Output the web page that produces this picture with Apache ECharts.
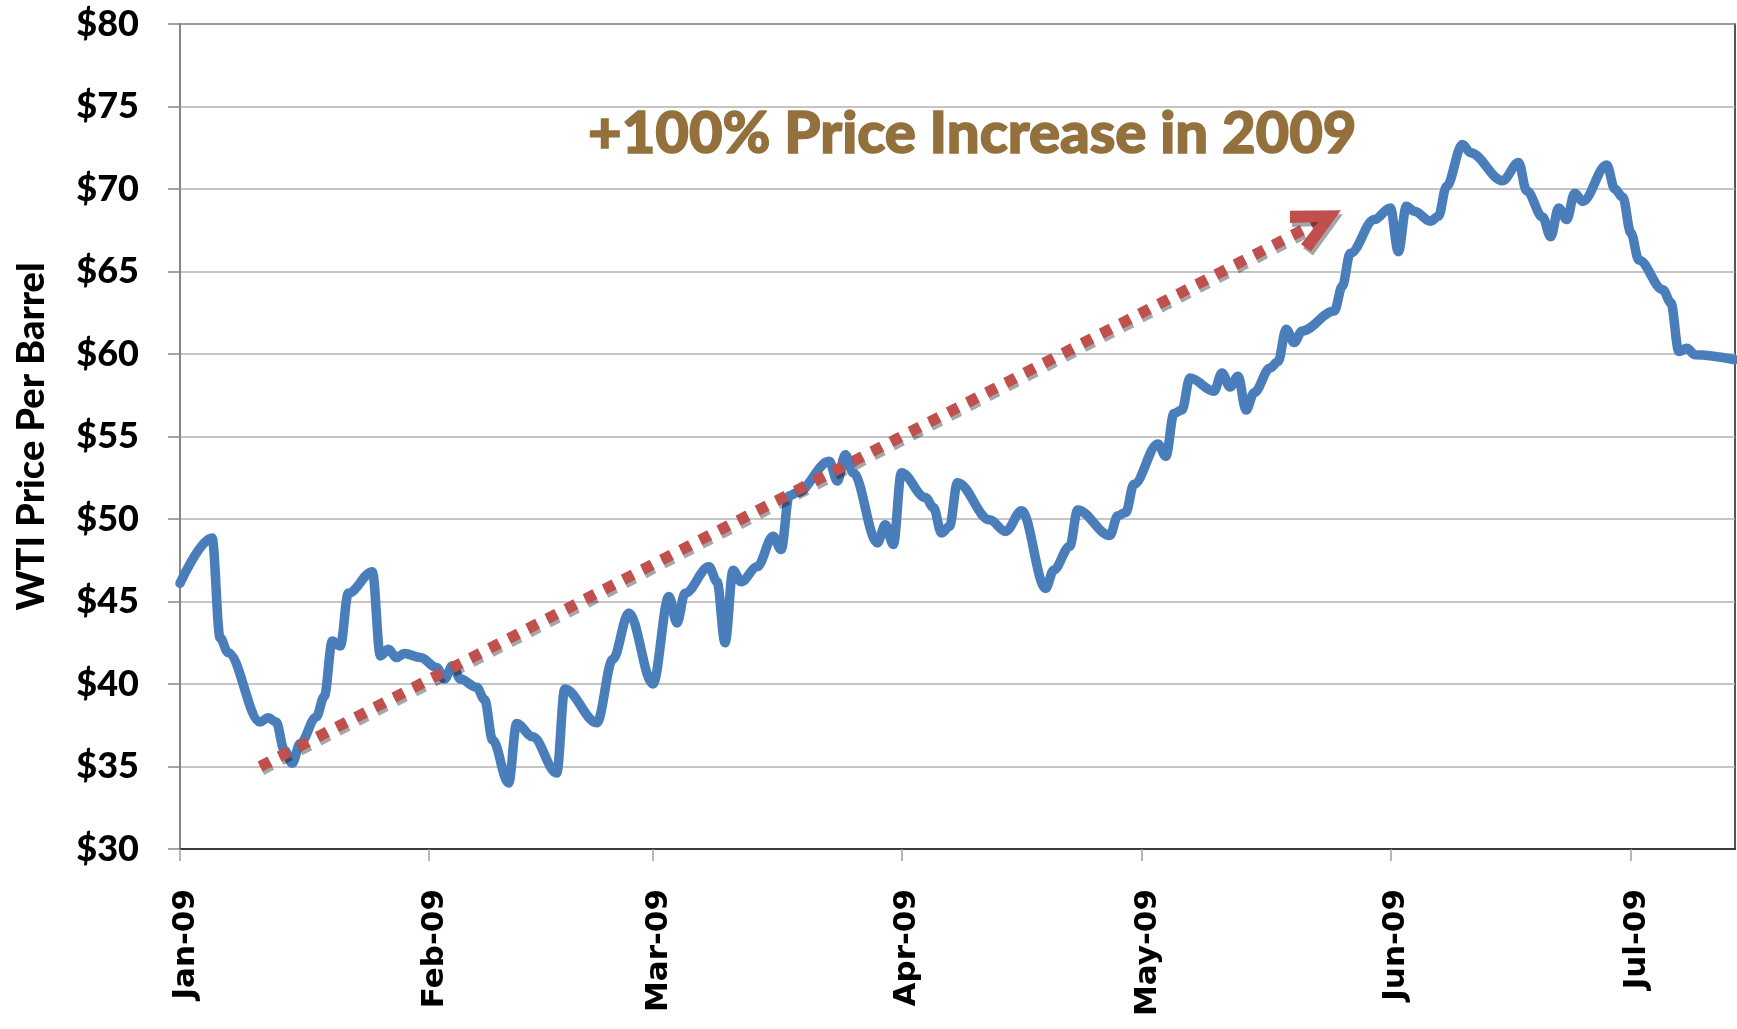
<!DOCTYPE html>
<html>
<head>
<meta charset="utf-8">
<script src="https://cdn.jsdelivr.net/npm/echarts@6/dist/echarts.min.js"></script>
<style>
    html, body { margin: 0; padding: 0; background: #fff; }
    #main { width: 1737px; height: 1029px; }
</style>
</head>
<body>
<div id="main"></div>
<script>
// WTI price
var priceDates = [
    '2009-01-01', '2009-01-05', '2009-01-06', '2009-01-07', '2009-01-11', '2009-01-12', '2009-01-13', '2009-01-14',
    '2009-01-15', '2009-01-16', '2009-01-18', '2009-01-19', '2009-01-20', '2009-01-21', '2009-01-22', '2009-01-25',
    '2009-01-26', '2009-01-27', '2009-01-28', '2009-01-29', '2009-01-31', '2009-02-02', '2009-02-03', '2009-02-04',
    '2009-02-05', '2009-02-07', '2009-02-08', '2009-02-09', '2009-02-11', '2009-02-12', '2009-02-14', '2009-02-17',
    '2009-02-18', '2009-02-22', '2009-02-24', '2009-02-26', '2009-03-01', '2009-03-03', '2009-03-04', '2009-03-05',
    '2009-03-08', '2009-03-09', '2009-03-10', '2009-03-11', '2009-03-12', '2009-03-14', '2009-03-16', '2009-03-17',
    '2009-03-18', '2009-03-19', '2009-03-23', '2009-03-24', '2009-03-25', '2009-03-26', '2009-03-29', '2009-03-30',
    '2009-03-31', '2009-04-01', '2009-04-04', '2009-04-05', '2009-04-06', '2009-04-07', '2009-04-08', '2009-04-12',
    '2009-04-14', '2009-04-16', '2009-04-19', '2009-04-20', '2009-04-22', '2009-04-23', '2009-04-27', '2009-04-28',
    '2009-04-29', '2009-04-30', '2009-05-03', '2009-05-04', '2009-05-05', '2009-05-06', '2009-05-07', '2009-05-10',
    '2009-05-11', '2009-05-12', '2009-05-13', '2009-05-14', '2009-05-15', '2009-05-17', '2009-05-18', '2009-05-19',
    '2009-05-20', '2009-05-21', '2009-05-25', '2009-05-26', '2009-05-27', '2009-05-30', '2009-06-01', '2009-06-02',
    '2009-06-03', '2009-06-04', '2009-06-06', '2009-06-07', '2009-06-08', '2009-06-10', '2009-06-11', '2009-06-15',
    '2009-06-17', '2009-06-18', '2009-06-20', '2009-06-21', '2009-06-22', '2009-06-23', '2009-06-24', '2009-06-25',
    '2009-06-28', '2009-06-29', '2009-06-30', '2009-07-01', '2009-07-02', '2009-07-05', '2009-07-06', '2009-07-07',
    '2009-07-08', '2009-07-09', '2009-07-14'
];
var priceValues = [
    46.1, 48.85, 42.8, 41.9, 37.7, 37.95, 37.7, 36.0,
    35.2, 36.4, 38.0, 39.25, 42.6, 42.3, 45.5, 46.8,
    41.7, 42.1, 41.6, 41.85, 41.6, 41.0, 40.3, 41.1,
    40.3, 39.8, 39.05, 36.6, 34.0, 37.6, 36.8, 34.6,
    39.7, 37.65, 41.5, 44.3, 40.0, 45.3, 43.7, 45.5,
    47.1, 46.2, 42.5, 46.9, 46.2, 47.1, 48.95, 48.15,
    51.4, 51.6, 53.5, 52.3, 53.9, 52.8, 48.55, 49.65,
    48.45, 52.8, 51.3, 50.7, 49.15, 49.55, 52.2, 49.95,
    49.25, 50.5, 45.8, 46.9, 48.35, 50.55, 49.0, 50.2,
    50.4, 52.1, 54.55, 53.8, 56.4, 56.6, 58.55, 57.75,
    58.85, 58.0, 58.65, 56.6, 57.65, 59.15, 59.55, 61.5,
    60.7, 61.4, 62.6, 64.1, 66.1, 68.15, 68.85, 66.2,
    68.95, 68.65, 68.05, 68.35, 70.15, 72.7, 72.2, 70.5,
    71.6, 69.9, 68.3, 67.1, 68.85, 68.15, 69.75, 69.25,
    71.45, 70.0, 69.5, 67.35, 65.7, 63.9, 63.1, 60.15,
    60.35, 59.95, 59.65
];

// dotted trend arrow (start, head)
var trendDates = ['2009-01-11', '2009-05-23'];
var trendValues = [35.0, 68.0];

var monthLabels = ['Jan-09', 'Feb-09', 'Mar-09', 'Apr-09', 'May-09', 'Jun-09', 'Jul-09'];
var axisStart = '2009-01-01';
var axisEnd = '2009-07-14';

var chevron = 'path://M0,0 L23,45 L12,50.5 L0,25 L-12,50.5 L-23,45 Z';
var DAY = 86400000;

function toTime(s) {
    var p = s.split('-');
    return new Date(+p[0], +p[1] - 1, +p[2]).getTime();
}

var priceData = priceDates.map(function(d, i) {
    return [toTime(d), priceValues[i]];
});

function trendData(rotate) {
    return [
        { value: [toTime(trendDates[0]), trendValues[0]], symbol: 'none' },
        {
            value: [toTime(trendDates[1]), trendValues[1]],
            symbol: chevron,
            symbolSize: [46, 51],
            symbolRotate: rotate
        }
    ];
}

var chart = echarts.init(document.getElementById('main'));
var option = {
    animation: false,
    backgroundColor: '#fff',
    title: {
        text: '+100% Price Increase in 2009',
        left: 583,
        top: 100,
        textStyle: {
            fontFamily: 'Lato',
            fontWeight: 900,
            fontSize: 58,
            color: '#93703C',
            textBorderColor: '#93703C',
            textBorderWidth: 1.5,
            textShadowColor: '#9a9a9a',
            textShadowOffsetX: 4,
            textShadowOffsetY: 4,
            textShadowBlur: 0
        }
    },
    grid: {
        left: 180,
        right: 2,
        top: 24,
        bottom: 180,
        show: true,
        borderColor: '#1e1e1e',
        borderWidth: 1.5
    },
    xAxis: {
        type: 'time',
        min: toTime(axisStart),
        max: toTime(axisEnd),
        minInterval: 28 * DAY,
        maxInterval: 31 * DAY,
        axisLine: { lineStyle: { color: '#3a3a3a', width: 2 } },
        axisTick: {
            length: 12,
            lineStyle: { color: '#a0a0a0', width: 1.5 }
        },
        axisLabel: {
            rotate: 90,
            margin: 40,
            padding: [12, 0, 0, 0],
            showMaxLabel: false,
            fontFamily: 'DejaVu Sans',
            fontWeight: 'bold',
            fontSize: 31,
            color: '#000',
            formatter: function(v) {
                return monthLabels[new Date(v).getMonth()];
            }
        },
        splitLine: { show: false }
    },
    yAxis: {
        type: 'value',
        min: 30,
        max: 80,
        interval: 5,
        name: 'WTI Price Per Barrel',
        nameLocation: 'middle',
        nameGap: 129,
        nameTextStyle: {
            fontFamily: 'Lato',
            fontWeight: 900,
            fontSize: 38,
            color: '#000'
        },
        axisLine: { show: true, lineStyle: { color: '#868686', width: 2 } },
        axisTick: { show: true, length: 12, lineStyle: { color: '#868686', width: 1.5 } },
        axisLabel: {
            margin: 41,
            fontFamily: 'Lato',
            fontWeight: 900,
            fontSize: 36,
            color: '#000',
            formatter: function(v) { return '$' + v; }
        },
        splitLine: { lineStyle: { color: '#b2b2b2', width: 1.5 } }
    },
    series: [
        {
            name: 'WTI',
            type: 'line',
            data: priceData,
            symbol: 'none',
            smooth: 0.35,
            smoothMonotone: 'x',
            lineStyle: { color: '#4A7EBB', width: 9.5, cap: 'round', join: 'round' }
        },
        {
            name: 'trend',
            type: 'line',
            data: trendData(0),
            showSymbol: true,
            itemStyle: {
                color: '#C0504D',
                shadowColor: 'rgba(0,0,0,0.35)',
                shadowOffsetX: 2,
                shadowOffsetY: 4,
                shadowBlur: 0
            },
            lineStyle: {
                color: '#C0504D',
                width: 11,
                type: [11, 10.5],
                cap: 'butt',
                shadowColor: 'rgba(0,0,0,0.35)',
                shadowOffsetX: 1.5,
                shadowOffsetY: 3.5,
                shadowBlur: 0
            }
        }
    ]
};
chart.setOption(option);

// turn the arrow head along the trend line
var p0 = chart.convertToPixel({ gridIndex: 0 }, [toTime(trendDates[0]), trendValues[0]]);
var p1 = chart.convertToPixel({ gridIndex: 0 }, [toTime(trendDates[1]), trendValues[1]]);
var ang = Math.atan2(p0[1] - p1[1], p1[0] - p0[0]) * 180 / Math.PI;
chart.setOption({ series: [{}, { data: trendData(ang - 90) }] });
</script>
</body>
</html>
